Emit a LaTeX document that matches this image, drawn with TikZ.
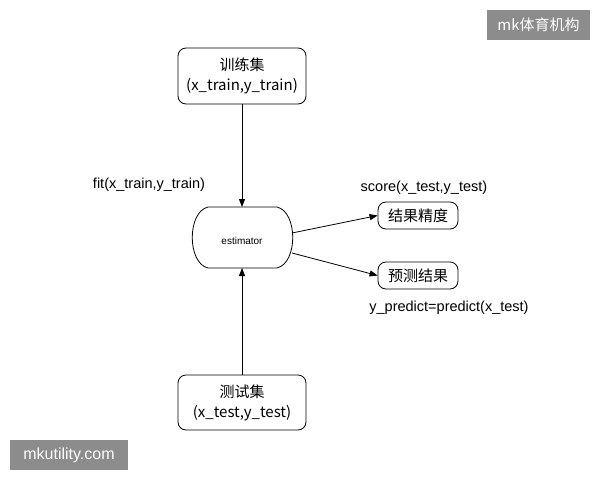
\documentclass[tikz,border=0pt]{standalone}
\usepackage{fontspec}
\setmainfont{Liberation Sans}
\newfontfamily\cjk{Noto Sans CJK SC}
\usetikzlibrary{arrows.meta}
\begin{document}
\begin{tikzpicture}[x=1pt,y=-1pt,
 box/.style={draw,rounded corners=8pt,line width=0.8pt,align=center,font=\cjk\fontsize{15}{20}\selectfont,inner sep=0pt},
 arr/.style={-{Triangle[length=8pt,width=6pt]},line width=0.8pt},
 lab/.style={font=\fontsize{14.5}{16}\selectfont},
 wm/.style={fill=black!45,text=white,inner sep=0pt}]
\useasboundingbox (0,0) rectangle (600,480);
\node[box,minimum width=128pt,minimum height=56pt] (train) at (242,76) {训练集\\(x\_train,y\_train)};
\node[box,minimum width=128pt,minimum height=55pt] (test) at (242,402.5) {测试集\\(x\_test,y\_test)};
\node[box,minimum width=80pt,minimum height=27pt,font=\cjk\fontsize{15}{16}\selectfont] (acc) at (418,215.5) {结果精度};
\node[box,minimum width=80pt,minimum height=27pt,font=\cjk\fontsize{15}{16}\selectfont] (pred) at (418,275.5) {预测结果};
\draw[line width=0.8pt] (208,207) -- (277,207) .. controls (298,212) and (298,263) .. (277,268) -- (208,268) .. controls (187,263) and (187,212) .. (208,207);
\node[font=\fontsize{10}{12}\selectfont] (est) at (242,241) {estimator};
\coordinate (estT) at (242,207);
\coordinate (estB) at (242,268);
\coordinate (estR1) at (292,233);
\coordinate (estR2) at (292,253);
\draw[arr] (train) -- (estT);
\draw[arr] (test) -- (estB);
\draw[arr] (estR1) -- (acc.west);
\draw[arr] (estR2) -- (pred.west);
\node[lab] (l1) at (149,185) {fit(x\_train,y\_train)};
\node[lab] (l2) at (424,188) {score(x\_test,y\_test)};
\node[lab] (l3) at (449,308) {y\_predict=predict(x\_test)};
\node[wm,minimum width=103pt,minimum height=30pt,font=\cjk\fontsize{15}{16}\selectfont] (w1) at (538.5,25) {mk体育机构};
\node[wm,minimum width=118pt,minimum height=30pt,font=\fontsize{16}{17}\selectfont] (w2) at (69,455) {mkutility.com};
\end{tikzpicture}
\end{document}
